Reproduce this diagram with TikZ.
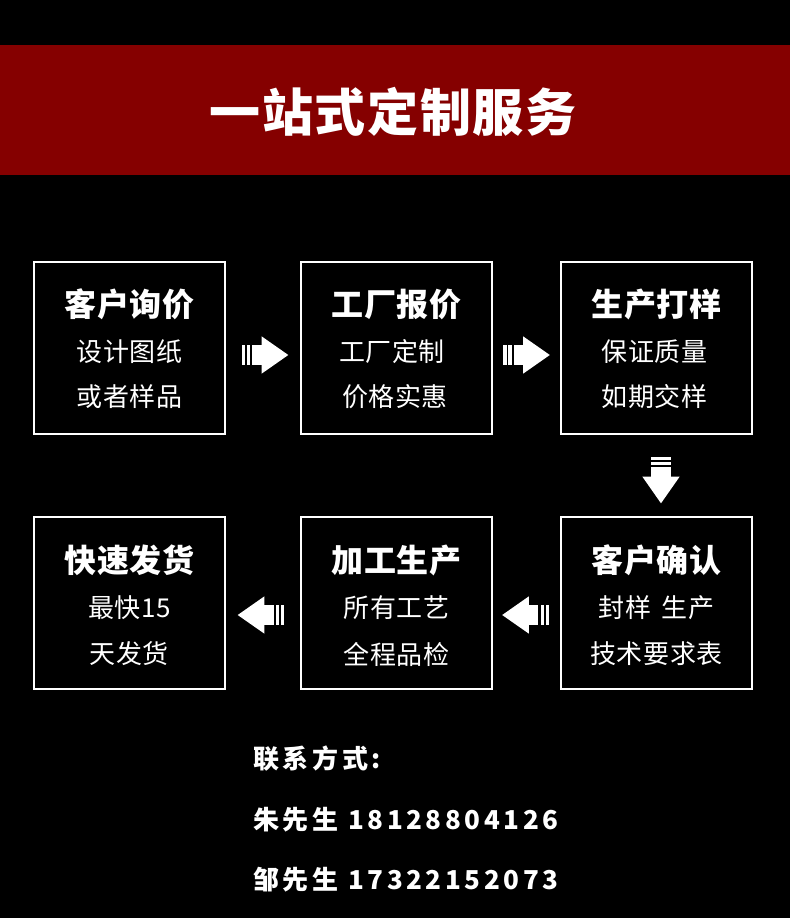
\documentclass[tikz,border=0pt]{standalone}
\usepackage{fontspec}
\usepackage{xcolor}
\usetikzlibrary{calc}
\newfontfamily\cjk{Noto Sans CJK SC}
\definecolor{bannerred}{RGB}{133,0,0}

\tikzset{
	flowarrow/.pic={
		\fill[white] (-3.3,-18.6) -- (23.3,0) -- (-3.3,18.6) -- cycle;
		\fill[white] (-12.7,-10.3) rectangle (-3,10.3);
		\fill[white] (-18.3,-10.3) rectangle (-15,10.3);
		\fill[white] (-23.3,-10.3) rectangle (-20,10.3);
	}
}

\begin{document}
\begin{tikzpicture}[x=1pt, y=-1pt,
		stepbox/.style={draw=white, line width=2pt, minimum width=191pt, minimum height=172pt, inner sep=0pt},
		boxtitle/.style={text=white, inner sep=0pt, font=\cjk\bfseries\fontsize{32}{32}\selectfont\addfontfeatures{LetterSpace=2}},
		boxline/.style={text=white, inner sep=0pt, font=\cjk\fontsize{26}{26}\selectfont\addfontfeatures{LetterSpace=2}},
		contact/.style={text=white, inner sep=0pt, anchor=west, font=\cjk\bfseries\fontsize{26}{26}\selectfont\addfontfeatures{LetterSpace=14}}]
	
	% Background
	\fill[black] (0,0) rectangle (790,918);
	\useasboundingbox (0,0) rectangle (790,918);
	
	% Banner
	\fill[bannerred] (0,45) rectangle (790,175);
	\node[text=white, font=\cjk\bfseries\fontsize{51}{51}\selectfont\addfontfeatures{LetterSpace=3}] (banner) at (393,112) {一站式定制服务};
	
	% First row
	\node[stepbox] (ask) at (129.5,348) {};
	\node[boxtitle] (askT) at (129.5,304) {客户询价};
	\node[boxline] (askA) at (129.5,352) {设计图纸};
	\node[boxline] (askB) at (129.5,397) {或者样品};
	
	\node[stepbox] (quote) at (396.5,348) {};
	\node[boxtitle] (quoteT) at (396.5,304) {工厂报价};
	\node[boxline] (quoteA) at (392,352) {工厂定制};
	\node[boxline] (quoteB) at (395,397) {价格实惠};
	
	\node[stepbox] (sample) at (656.5,348) {};
	\node[boxtitle] (sampleT) at (656.5,304) {生产打样};
	\node[boxline] (sampleA) at (654.5,352) {保证质量};
	\node[boxline] (sampleB) at (654.5,397) {如期交样};
	
	% Second row
	\node[stepbox] (ship) at (129.5,603) {};
	\node[boxtitle] (shipT) at (129.5,560) {快速发货};
	\node[boxline] (shipA) at (129.5,608) {最快15};
	\node[boxline] (shipB) at (129.5,654) {天发货};
	
	\node[stepbox] (make) at (396.5,603) {};
	\node[boxtitle] (makeT) at (396.5,560) {加工生产};
	\node[boxline] (makeA) at (396.5,608) {所有工艺};
	\node[boxline] (makeB) at (396.5,654) {全程品检};
	
	\node[stepbox] (confirm) at (656.5,603) {};
	\node[boxtitle] (confirmT) at (656.5,560) {客户确认};
	\node[boxline] (confirmA) at (656.5,608) {封样\hspace{0.4em}生产};
	\node[boxline] (confirmB) at (656.5,654) {技术要求表};
	
	% Arrows between the steps
	\pic at ($(ask.east)!0.5!(quote.west)+(2,7)$) {flowarrow};
	\pic at ($(quote.east)!0.5!(sample.west)+(0,7)$) {flowarrow};
	\pic[rotate=-90] at ($(sample.south)!0.5!(confirm.north)+(4.5,4.5)$) {flowarrow};
	\pic[rotate=180] at ($(make.east)!0.5!(confirm.west)+(-1,12)$) {flowarrow};
	\pic[rotate=180] at ($(ship.east)!0.5!(make.west)+(-2,12)$) {flowarrow};
	
	% Contact
	\node[contact] (contactT) at (253,759) {联系方式:};
	\node[contact] (contactA) at (253,820) {朱先生 18128804126};
	\node[contact] (contactB) at (253,880) {邹先生 17322152073};
	
\end{tikzpicture}
\end{document}
